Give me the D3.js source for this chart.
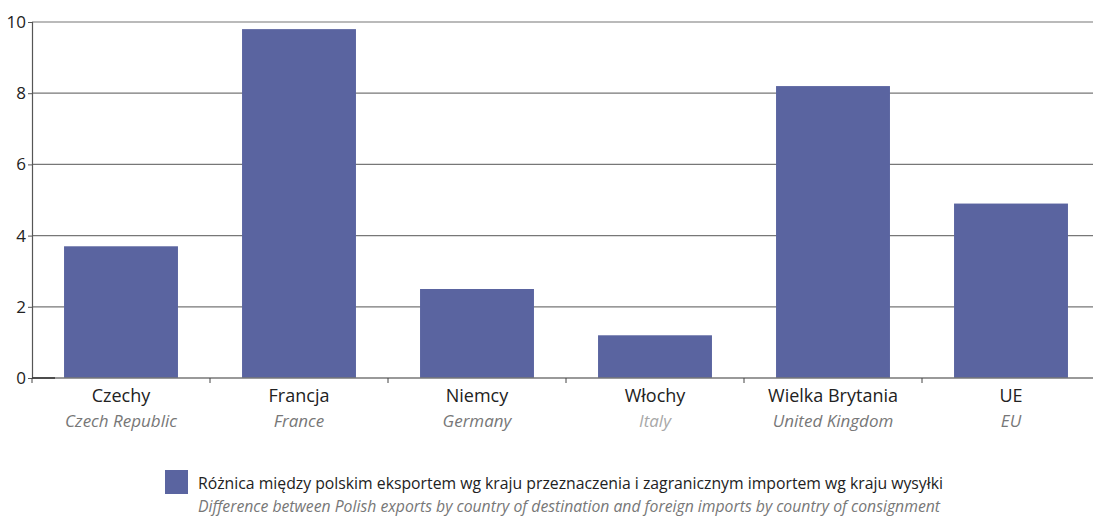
<!DOCTYPE html>
<html>
<head>
<meta charset="utf-8">
<script src="https://cdn.jsdelivr.net/npm/d3@7"></script>
<style>
  body { margin: 0; background: #fff; }
  svg { font-family: "Open Sans", "Noto Sans", sans-serif; }
</style>
</head>
<body>
<svg width="1093" height="517"></svg>
<script>
const svg = d3.select("svg"),
  width = +svg.attr("width"),
  height = +svg.attr("height");

// Data
const categoriesPl = ["Czechy", "Francja", "Niemcy", "Włochy", "Wielka Brytania", "UE"];
const categoriesEn = ["Czech Republic", "France", "Germany", "Italy", "United Kingdom", "EU"];
const values = [3.7, 9.8, 2.5, 1.2, 8.2, 4.9];
const yTicks = [0, 2, 4, 6, 8, 10];
const legendPl = "Różnica między polskim eksportem wg kraju przeznaczenia i zagranicznym importem wg kraju wysyłki";
const legendEn = "Difference between Polish exports by country of destination and foreign imports by country of consignment";

const margin = { left: 32, top: 22, bottom: 378 };
const barColor = "#5a64a0";

// Scales
const x = d3.scaleBand()
  .domain(categoriesPl)
  .range([margin.left, margin.left + 6 * 178])
  .paddingInner(0.36)
  .paddingOuter(0.18);

const y = d3.scaleLinear()
  .domain([0, 10])
  .range([margin.bottom, margin.top]);

// Gridlines
svg.append("g")
  .selectAll("line")
  .data(yTicks.filter(d => d > 0))
  .join("line")
  .attr("x1", margin.left)
  .attr("x2", width)
  .attr("y1", d => y(d))
  .attr("y2", d => y(d))
  .attr("stroke", "#777")
  .attr("stroke-width", 1.2);

// Bars
svg.append("g")
  .selectAll("rect")
  .data(values)
  .join("rect")
  .attr("x", (d, i) => x(categoriesPl[i]))
  .attr("width", x.bandwidth())
  .attr("y", d => y(d))
  .attr("height", d => y(0) - y(d))
  .attr("fill", barColor);

// Y axis
const yAxis = svg.append("g")
  .attr("transform", `translate(${margin.left},0)`)
  .call(d3.axisLeft(y).tickValues(yTicks).tickSize(4).tickPadding(2));
yAxis.select(".domain").attr("stroke", "#555").attr("stroke-width", 1.2);
yAxis.selectAll(".tick line").attr("stroke", "#555");
yAxis.selectAll(".tick text")
  .attr("font-size", 17)
  .attr("fill", "#222")
  .attr("font-family", "Open Sans, sans-serif");

// X axis line and category ticks
const step = x.step();
const boundaries = d3.range(7).map(i => margin.left + i * step);
svg.append("line")
  .attr("x1", margin.left)
  .attr("x2", width)
  .attr("y1", y(0))
  .attr("y2", y(0))
  .attr("stroke", "#777")
  .attr("stroke-width", 1.5);
svg.append("line")
  .attr("x1", margin.left)
  .attr("x2", margin.left + 23)
  .attr("y1", y(0))
  .attr("y2", y(0))
  .attr("stroke", "#333")
  .attr("stroke-width", 1.5);
svg.append("g")
  .selectAll("line")
  .data(boundaries)
  .join("line")
  .attr("x1", d => d)
  .attr("x2", d => d)
  .attr("y1", y(0))
  .attr("y2", y(0) + 5)
  .attr("stroke", "#444");

// Category labels
const labels = svg.append("g")
  .selectAll("g")
  .data(categoriesPl)
  .join("g")
  .attr("transform", d => `translate(${x(d) + x.bandwidth() / 2},0)`);
labels.append("text")
  .attr("y", 402)
  .attr("text-anchor", "middle")
  .attr("font-size", 18)
  .attr("fill", "#222")
  .text(d => d);
labels.append("text")
  .attr("y", 427)
  .attr("text-anchor", "middle")
  .attr("font-size", 17)
  .attr("font-style", "italic")
  .attr("fill", (d, i) => i === 3 ? "#a8a8a8" : "#777")
  .text((d, i) => categoriesEn[i]);

// Legend
const legend = svg.append("g");
legend.append("rect")
  .attr("x", 165)
  .attr("y", 470)
  .attr("width", 23)
  .attr("height", 24)
  .attr("fill", barColor);
legend.append("text")
  .attr("x", 198)
  .attr("y", 489)
  .attr("font-size", 16)
  .attr("fill", "#222")
  .attr("textLength", 745)
  .attr("lengthAdjust", "spacingAndGlyphs")
  .text(legendPl);
legend.append("text")
  .attr("x", 198)
  .attr("y", 512)
  .attr("font-size", 16)
  .attr("font-style", "italic")
  .attr("fill", "#777")
  .attr("textLength", 742)
  .attr("lengthAdjust", "spacingAndGlyphs")
  .text(legendEn);
</script>
</body>
</html>
